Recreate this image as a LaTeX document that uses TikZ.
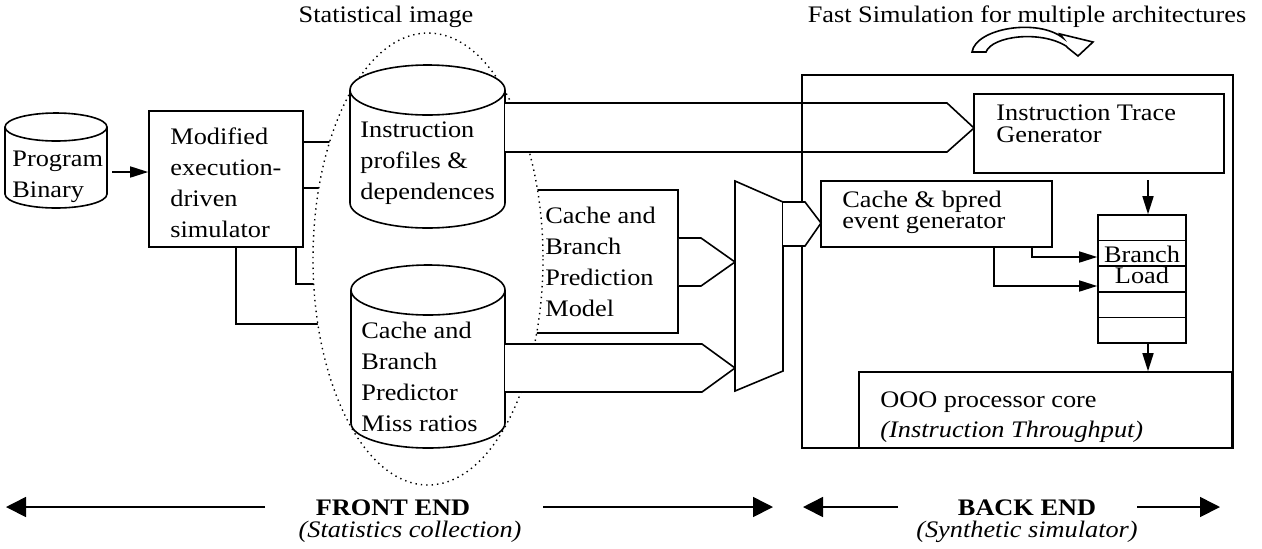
\documentclass[tikz,border=0pt]{standalone}
\usepackage{xcolor}
\usepackage{amsmath, amssymb}
\usepackage{fontspec}
\setmainfont{Liberation Serif}[FakeStretch=1.11]
\usepackage{tikz}
\usetikzlibrary{arrows.meta,fit}

\begin{document}
\begin{tikzpicture}[x=0.5pt,y=-0.5pt,
  ln/.style={line width=0.8pt},
  blk/.style={draw,line width=0.8pt,inner sep=0pt},
  fat/.style={draw,line width=0.8pt,fill=white,line join=miter},
  arr/.style={line width=0.8pt,-{Triangle[length=9pt,width=5.5pt]}},
  bigarr/.style={line width=0.8pt,-{Triangle[length=10pt,width=10pt]}},
  txt/.style={inner sep=0pt,anchor=north west,align=left,font=\fontsize{11.85}{15.5}\selectfont},
  lbl/.style={inner sep=0pt,anchor=base,font=\fontsize{11.85}{14}\selectfont}]
\useasboundingbox (0,0) rectangle (1262,548);
%titles
\node[lbl] (statT) at (386,22) {Statistical image};
\node[lbl] (fastT) at (1027,22) {Fast Simulation for multiple architectures};
\draw[fat] (972,52) .. controls (976,28) and (1038,18) .. (1063,38) -- (1060,34)
  -- (1093,42) -- (1078,56) -- (1068,48) -- (1066,46)
  .. controls (1040,30) and (992,36) .. (986,52) -- cycle;
%front end
\draw[fat] (5,127) -- (5,194) arc(180:0:51 and 14) -- (107,127);
\draw[fat] (56,127) ellipse (51 and 14);
\node[txt] (progT) at (12,151) {Program\\Binary};
\node[blk,fit={(149,111) (303,247)}] (mod) {};
\node[txt] (modT) at (170,127) {Modified\\execution-\\driven\\simulator};
\draw[arr] (112,172) -- (mod.west |- 0,172);
\draw[ln] (mod.east |- 0,142) -- (360,142);
\draw[ln] (mod.east |- 0,188) -- (360,188);
\draw[ln] (296,247) -- (296,284) -- (360,284);
\draw[ln] (236,247) -- (236,324) -- (360,324);
\node[blk,fit={(525,190) (678,333)}] (cbm) {};
\node[txt] (cbmT) at (545,207) {Cache and\\Branch\\Prediction\\Model};
%statistical image
\draw[dotted,line width=0.7pt,fill=white] (428,259) ellipse (115 and 226);
\draw[fat] (350,90) -- (350,203) arc(180:0:77.5 and 25) -- (505,90);
\draw[fat] (427.5,90) ellipse (77.5 and 25);
\node[txt] (insT) at (360,121) {Instruction\\profiles \&\\dependences};
\draw[fat] (351,290) -- (351,423) arc(180:0:77 and 25) -- (505,290);
\draw[fat] (428,290) ellipse (77 and 25);
\node[txt] (missT) at (361,322) {Cache and\\Branch\\Predictor\\Miss ratios};
%wide arrows
\draw[fat] (505,103) -- (947,103) -- (974,128) -- (947,152) -- (505,152);
\draw[fat] (505,344) -- (702,344) -- (735,368) -- (702,392) -- (505,392);
\draw[fat] (cbm.east |- 0,238) -- (701,238) -- (735,262) -- (701,286) -- (cbm.east |- 0,286);
\draw[fat] (735,181) -- (783,202) -- (783,371) -- (735,391) -- cycle;
%back end
\node[blk,fit={(802,75) (1233,448)}] (back) {};
\draw[fat] (783,202) -- (805,202) -- (821,223) -- (805,246) -- (783,246);
\node[blk,fit={(974,94) (1224,173)}] (itg) {};
\node[txt,font=\fontsize{11.85}{11}\selectfont] (itgT) at (996,104) {Instruction Trace\\Generator};
\node[blk,fit={(821,181) (1052,247)}] (evg) {};
\node[txt,font=\fontsize{11.85}{10.5}\selectfont] (evgT) at (842,191) {Cache \& bpred\\event generator};
\node[blk,fit={(1098,215) (1186,343)}] (que) {};
\foreach \y in {240.6,266.2,291.8,317.4}
  \draw[ln] (que.west |- 0,\y) -- (que.east |- 0,\y);
\node[txt,anchor=north,align=center,font=\fontsize{11.85}{10.5}\selectfont] (queT) at (1142,246) {Branch\\Load};
\draw[arr] (1032,247) -- (1032,257) -- (que.west |- 0,257);
\draw[arr] (994,247) -- (994,286) -- (que.west |- 0,286);
\node[blk,fit={(859,372) (1232,448)}] (ooo) {};
\node[txt,font=\fontsize{11.85}{15}\selectfont] (oooT) at (880,391) {OOO processor core\\\textit{(Instruction Throughput)}};
\draw[arr] (1148,180) -- (que.north -| 1148,0);
\draw[arr] (que.south -| 1148,0) -- (ooo.north -| 1148,0);
%bottom
\node[lbl,font=\fontsize{11.85}{14}\selectfont\bfseries] (feT) at (393,515) {FRONT END};
\node[lbl,font=\fontsize{11.85}{14}\selectfont\itshape] (feS) at (410,537) {(Statistics collection)};
\node[lbl,font=\fontsize{11.85}{14}\selectfont\bfseries] (beT) at (1027,515) {BACK END};
\node[lbl,font=\fontsize{11.85}{14}\selectfont\itshape] (beS) at (1027,537) {(Synthetic simulator)};
\coordinate (fe1) at (265,507);
\coordinate (fe2) at (543,507);
\coordinate (be1) at (898,507);
\coordinate (be2) at (1137,507);
\draw[bigarr] (fe1) -- (6,507);
\draw[bigarr] (fe2) -- (773,507);
\draw[bigarr] (be1) -- (803,507);
\draw[bigarr] (be2) -- (1220,507);
\end{tikzpicture}
\end{document}
